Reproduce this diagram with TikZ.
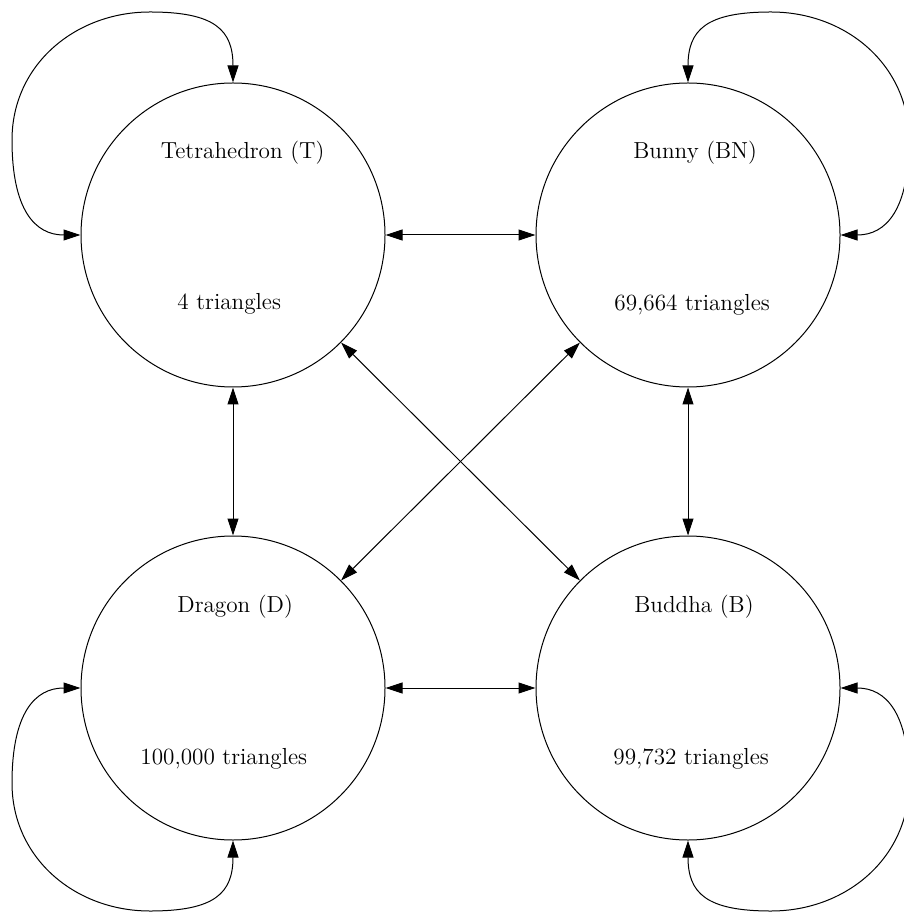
\documentclass[tikz,border=0pt]{standalone}
\usepackage{fontspec}
\usetikzlibrary{arrows.meta}
\begin{document}
\begin{tikzpicture}[x=0.5pt,y=-0.5pt,
  state/.style={circle,draw,line width=0.5pt,minimum size=152pt,inner sep=0pt},
  lbl/.style={anchor=base west,font=\fontsize{11.6}{14}\selectfont,inner sep=0pt},
  link/.style={line width=0.5pt,{Triangle[length=8.5pt,width=5.5pt]}-{Triangle[length=8.5pt,width=5.5pt]}}]
\useasboundingbox (0,0) rectangle (903,913);
% states
\node[state] (T)  at (233,235) {};
\node[state] (BN) at (688,235) {};
\node[state] (D)  at (233,688) {};
\node[state] (B)  at (688,688) {};
% labels
\node[lbl] (Tname)  at (160.5,159) {Tetrahedron (T)};
\node[lbl] (Tsize)  at (177,310) {4 triangles};
\node[lbl] (BNname) at (633,159) {Bunny (BN)};
\node[lbl] (BNsize) at (614,311) {69,664 triangles};
\node[lbl] (Dname)  at (177,612) {Dragon (D)};
\node[lbl] (Dsize)  at (140,764) {100,000 triangles};
\node[lbl] (Bname)  at (634,612) {Buddha (B)};
\node[lbl] (Bsize)  at (613,764) {99,732 triangles};
% straight connectors
\draw[link] (T) -- (BN);
\draw[link] (T) -- (D);
\draw[link] (T) -- (B);
\draw[link] (BN) -- (D);
\draw[link] (BN) -- (B);
\draw[link] (D) -- (B);
% self loops
\draw[link] (T.north) .. controls (233,30) and (215,12) .. (150,12)
  .. controls (75,12) and (12,65) .. (12,140)
  .. controls (12,210) and (35,235) .. (T.west);
\draw[link] (BN.north) .. controls (688,30) and (706,12) .. (771,12)
  .. controls (846,12) and (909,65) .. (909,140)
  .. controls (909,210) and (886,235) .. (BN.east);
\draw[link] (D.south) .. controls (233,893) and (215,911) .. (150,911)
  .. controls (75,911) and (12,858) .. (12,783)
  .. controls (12,713) and (35,688) .. (D.west);
\draw[link] (B.south) .. controls (688,893) and (706,911) .. (771,911)
  .. controls (846,911) and (909,858) .. (909,783)
  .. controls (909,713) and (886,688) .. (B.east);
\end{tikzpicture}
\end{document}
